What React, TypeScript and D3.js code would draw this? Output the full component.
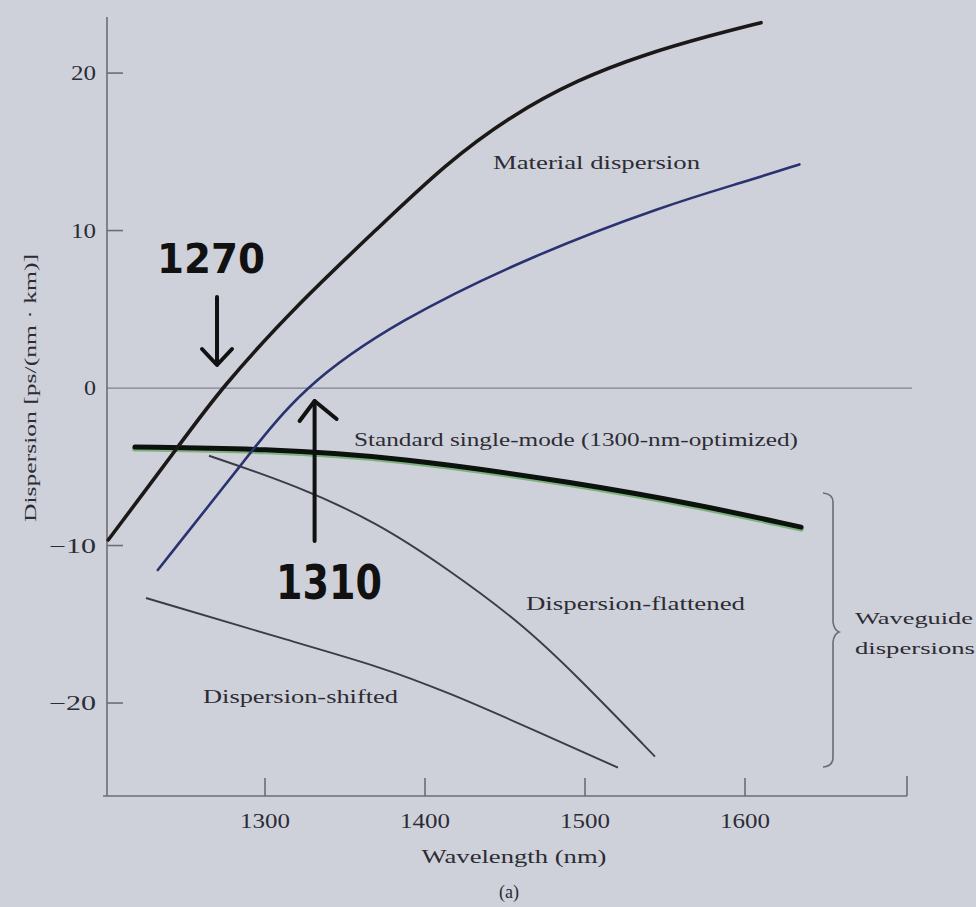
import React from "react";
import * as d3 from "d3";

// ---- data ----
const materialLambda = [1202, 1245.6, 1272.5, 1320, 1370.6, 1412.5, 1453.75, 1495.6, 1537.5, 1578.75, 1610];
const materialD = [-9.65, -3.75, 0, 5.3, 10.15, 14.2, 17.3, 19.6, 21.2, 22.4, 23.2];

const totalLambda = [1233, 1287.5, 1322.5, 1383, 1467.5, 1550, 1600, 1634];
const totalD = [-11.55, -4.57, 0, 4.3, 8.44, 11.6, 13.1, 14.2];

const standardLambda = [1218.75, 1300, 1383, 1495.6, 1570.6, 1635];
const standardD = [-3.75, -3.85, -4.38, -6.03, -7.4, -8.83];

const flattenedLambda = [1265, 1320, 1370.6, 1412.5, 1460, 1495.6, 1543.75];
const flattenedD = [-4.3, -6.2, -8.57, -11.37, -14.9, -18.35, -23.4];

const shiftedLambda = [1225.6, 1320.6, 1370.6, 1414, 1470, 1520.6];
const shiftedD = [-13.33, -16.2, -17.65, -19.3, -21.8, -24.1];

const xTicks = [1300, 1400, 1500, 1600];
const yTicks = [20, 10, 0, -10, -20];
const yTickLabels = ["20", "10", "0", "\u221210", "\u221220"];

const annotations = [
  { text: "1270", lambda: 1270 },
  { text: "1310", lambda: 1331 },
];

const W = 976;
const H = 907;

const x = d3.scaleLinear().domain([1200, 1700]).range([105, 905]);
const y = d3.scaleLinear().domain([-25.84, 23.56]).range([795, 17]);

const zip = (a: number[], b: number[]) => a.map((v, i) => [v, b[i]] as [number, number]);
const line = d3
  .line<[number, number]>()
  .x((d) => x(d[0]))
  .y((d) => y(d[1]))
  .curve(d3.curveBasis);

const serif = "'Liberation Serif', 'DejaVu Serif', serif";
const hand = "'DejaVu Sans', 'Liberation Sans', sans-serif";
const textFill = "#2c2c34";

export default function App() {
  const axisColor = "#6b6c78";
  const x0 = 107;
  const yBottom = 796;
  const a1270 = x(annotations[0].lambda);
  const a1310 = x(annotations[1].lambda);
  return (
    <svg
      width={W}
      height={H}
      style={{ position: "absolute", left: 0, top: 0 }}
      xmlns="http://www.w3.org/2000/svg"
    >
      <rect x={0} y={0} width={W} height={H} fill="#cfd1da" />

      {/* zero line */}
      <line x1={x0} x2={912} y1={y(0)} y2={y(0)} stroke="#80808c" strokeWidth={1.2} />

      {/* y axis */}
      <line x1={x0} x2={x0} y1={17} y2={yBottom} stroke={axisColor} strokeWidth={1.6} />
      {yTicks.map((t, i) => (
        <g key={t}>
          {t !== 0 && (
            <line x1={x0} x2={x0 + 16} y1={y(t)} y2={y(t)} stroke={axisColor} strokeWidth={1.6} />
          )}
          <text
            x={96}
            y={y(t)}
            dy="0.35em"
            textAnchor="end"
            fontFamily={serif}
            fontSize={20}
            fill={textFill}
            textLength={t < 0 ? 47 : t === 0 ? 12 : 25}
            lengthAdjust="spacingAndGlyphs"
          >
            {yTickLabels[i]}
          </text>
        </g>
      ))}

      {/* x axis */}
      <line x1={103} x2={907} y1={yBottom} y2={yBottom} stroke={axisColor} strokeWidth={1.6} />
      {xTicks.map((t) => (
        <g key={t}>
          <line x1={x(t)} x2={x(t)} y1={yBottom} y2={yBottom - 18} stroke={axisColor} strokeWidth={1.6} />
          <text
            x={x(t)}
            y={828}
            textAnchor="middle"
            fontFamily={serif}
            fontSize={20}
            fill={textFill}
            textLength={50}
            lengthAdjust="spacingAndGlyphs"
          >
            {t}
          </text>
        </g>
      ))}
      <line x1={907} x2={907} y1={yBottom} y2={yBottom - 20} stroke={axisColor} strokeWidth={1.6} />

      {/* axis titles */}
      <text
        x={514}
        y={863}
        textAnchor="middle"
        fontFamily={serif}
        fontSize={18}
        fill={textFill}
        textLength={185}
        lengthAdjust="spacingAndGlyphs"
      >
        Wavelength (nm)
      </text>
      <text x={509} y={898} textAnchor="middle" fontFamily={serif} fontSize={18} fill={textFill}>
        (a)
      </text>
      <text
        transform="translate(36,388) rotate(-90)"
        textAnchor="middle"
        fontFamily={serif}
        fontSize={17}
        fill={textFill}
        textLength={268}
        lengthAdjust="spacingAndGlyphs"
      >
        Dispersion [ps/(nm · km)]
      </text>

      {/* curves */}
      <path d={line(zip(shiftedLambda, shiftedD)) || ""} fill="none" stroke="#3b3b4a" strokeWidth={1.9} />
      <path d={line(zip(flattenedLambda, flattenedD)) || ""} fill="none" stroke="#3b3b4a" strokeWidth={1.9} />
      <path
        d={line(zip(standardLambda, standardD)) || ""}
        fill="none"
        stroke="#7fb07f"
        strokeWidth={6}
        transform="translate(0,1.5)"
        strokeLinecap="round"
      />
      <path
        d={line(zip(standardLambda, standardD)) || ""}
        fill="none"
        stroke="#0c120d"
        strokeWidth={5}
        strokeLinecap="round"
      />
      <path d={line(zip(totalLambda, totalD)) || ""} fill="none" stroke="#2a3270" strokeWidth={2.6} strokeLinecap="round" />
      <path d={line(zip(materialLambda, materialD)) || ""} fill="none" stroke="#1c1818" strokeWidth={3.6} strokeLinecap="round" />

      {/* curve labels */}
      <text x={493} y={169} fontFamily={serif} fontSize={18} fill={textFill} textLength={207} lengthAdjust="spacingAndGlyphs">
        Material dispersion
      </text>
      <text x={354} y={446} fontFamily={serif} fontSize={18} fill={textFill} textLength={444} lengthAdjust="spacingAndGlyphs">
        Standard single-mode (1300-nm-optimized)
      </text>
      <text x={526} y={610} fontFamily={serif} fontSize={18} fill={textFill} textLength={219} lengthAdjust="spacingAndGlyphs">
        Dispersion-flattened
      </text>
      <text x={203} y={703} fontFamily={serif} fontSize={18} fill={textFill} textLength={195} lengthAdjust="spacingAndGlyphs">
        Dispersion-shifted
      </text>
      <text x={855} y={624} fontFamily={serif} fontSize={17} fill={textFill} textLength={118} lengthAdjust="spacingAndGlyphs">
        Waveguide
      </text>
      <text x={855} y={654} fontFamily={serif} fontSize={17} fill={textFill} textLength={120} lengthAdjust="spacingAndGlyphs">
        dispersions
      </text>

      {/* brace */}
      <path
        d="M823,493 Q833,494 833,502 L833,622 Q834,630 839,632 Q834,634 833,642 L833,758 Q833,766 823,767"
        fill="none"
        stroke="#6a6a78"
        strokeWidth={1.6}
      />

      {/* handwritten annotations */}
      <text x={157} y={273} fontFamily={hand} fontWeight="bold" fontSize={40} fill="#111" textLength={108} lengthAdjust="spacingAndGlyphs">
        {annotations[0].text}
      </text>
      <g stroke="#111" strokeWidth={4} fill="none" strokeLinecap="round" strokeLinejoin="round">
        <line x1={a1270} x2={a1270} y1={297} y2={364} />
        <polyline points={`${a1270 - 15},349 ${a1270},365 ${a1270 + 15},349`} />
      </g>
      <text x={276} y={599} fontFamily={hand} fontWeight="bold" fontSize={48} fill="#111" textLength={106} lengthAdjust="spacingAndGlyphs">
        {annotations[1].text}
      </text>
      <g stroke="#111" strokeWidth={4} fill="none" strokeLinecap="round" strokeLinejoin="round">
        <line x1={a1310} x2={a1310} y1={541} y2={401} />
        <polyline points={`${a1310 - 15},421 ${a1310},401 ${a1310 + 22},419`} />
      </g>
    </svg>
  );
}
